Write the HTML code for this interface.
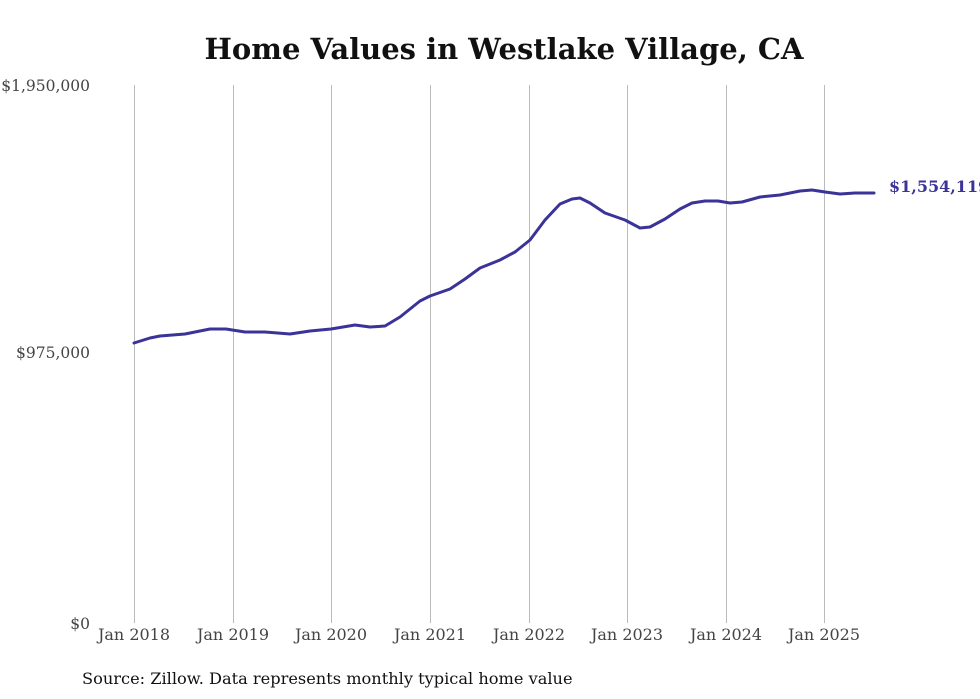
<!DOCTYPE html>
<html><head><meta charset="utf-8"><style>
body{margin:0;background:#fff;}
svg{display:block;font-family:"DejaVu Serif","Liberation Serif",serif;}
</style></head><body>
<svg width="980" height="699" viewBox="0 0 980 699">
<text x="504" y="59" text-anchor="middle" font-size="29" font-weight="bold" fill="#111">Home Values in Westlake Village, CA</text>
<g stroke="#bbb" stroke-width="1">
<line x1="134.5" y1="85" x2="134.5" y2="623"/>
<line x1="233.5" y1="85" x2="233.5" y2="623"/>
<line x1="331.5" y1="85" x2="331.5" y2="623"/>
<line x1="430.5" y1="85" x2="430.5" y2="623"/>
<line x1="529.5" y1="85" x2="529.5" y2="623"/>
<line x1="627.5" y1="85" x2="627.5" y2="623"/>
<line x1="726.5" y1="85" x2="726.5" y2="623"/>
<line x1="824.5" y1="85" x2="824.5" y2="623"/>
</g>
<g font-size="15.5" fill="#444" text-anchor="end">
<text x="90" y="91">$1,950,000</text>
<text x="90" y="358">$975,000</text>
<text x="90" y="629">$0</text>
</g>
<g font-size="16" fill="#444" text-anchor="middle">
<text x="134" y="640">Jan 2018</text>
<text x="233" y="640">Jan 2019</text>
<text x="331" y="640">Jan 2020</text>
<text x="430" y="640">Jan 2021</text>
<text x="529" y="640">Jan 2022</text>
<text x="627" y="640">Jan 2023</text>
<text x="726" y="640">Jan 2024</text>
<text x="824" y="640">Jan 2025</text>
</g>
<polyline fill="none" stroke="#3a3398" stroke-width="3" stroke-linejoin="round" stroke-linecap="round" points="134,343 150,338 160,336 185,334 200,331 210,329 226,329 245,332 265,332 290,334 310,331 331,329 355,325 370,327 385,326 400,317 420,301 430,296 450,289 465,279 480,268 500,260 515,252 530,240 545,220 560,204 572,199 580,198 590,203 605,213 625,220 640,228 650,227 665,219 680,209 692,203 705,201 718,201 730,203 742,202 760,197 780,195 800,191 812,190 825,192 840,194 855,193 874,193"/>
<text x="889" y="192" font-size="16" font-weight="bold" fill="#3a3398">$1,554,119</text>
<text x="82" y="684" font-size="16.2" fill="#111">Source: Zillow. Data represents monthly typical home value</text>
</svg>
</body></html>
